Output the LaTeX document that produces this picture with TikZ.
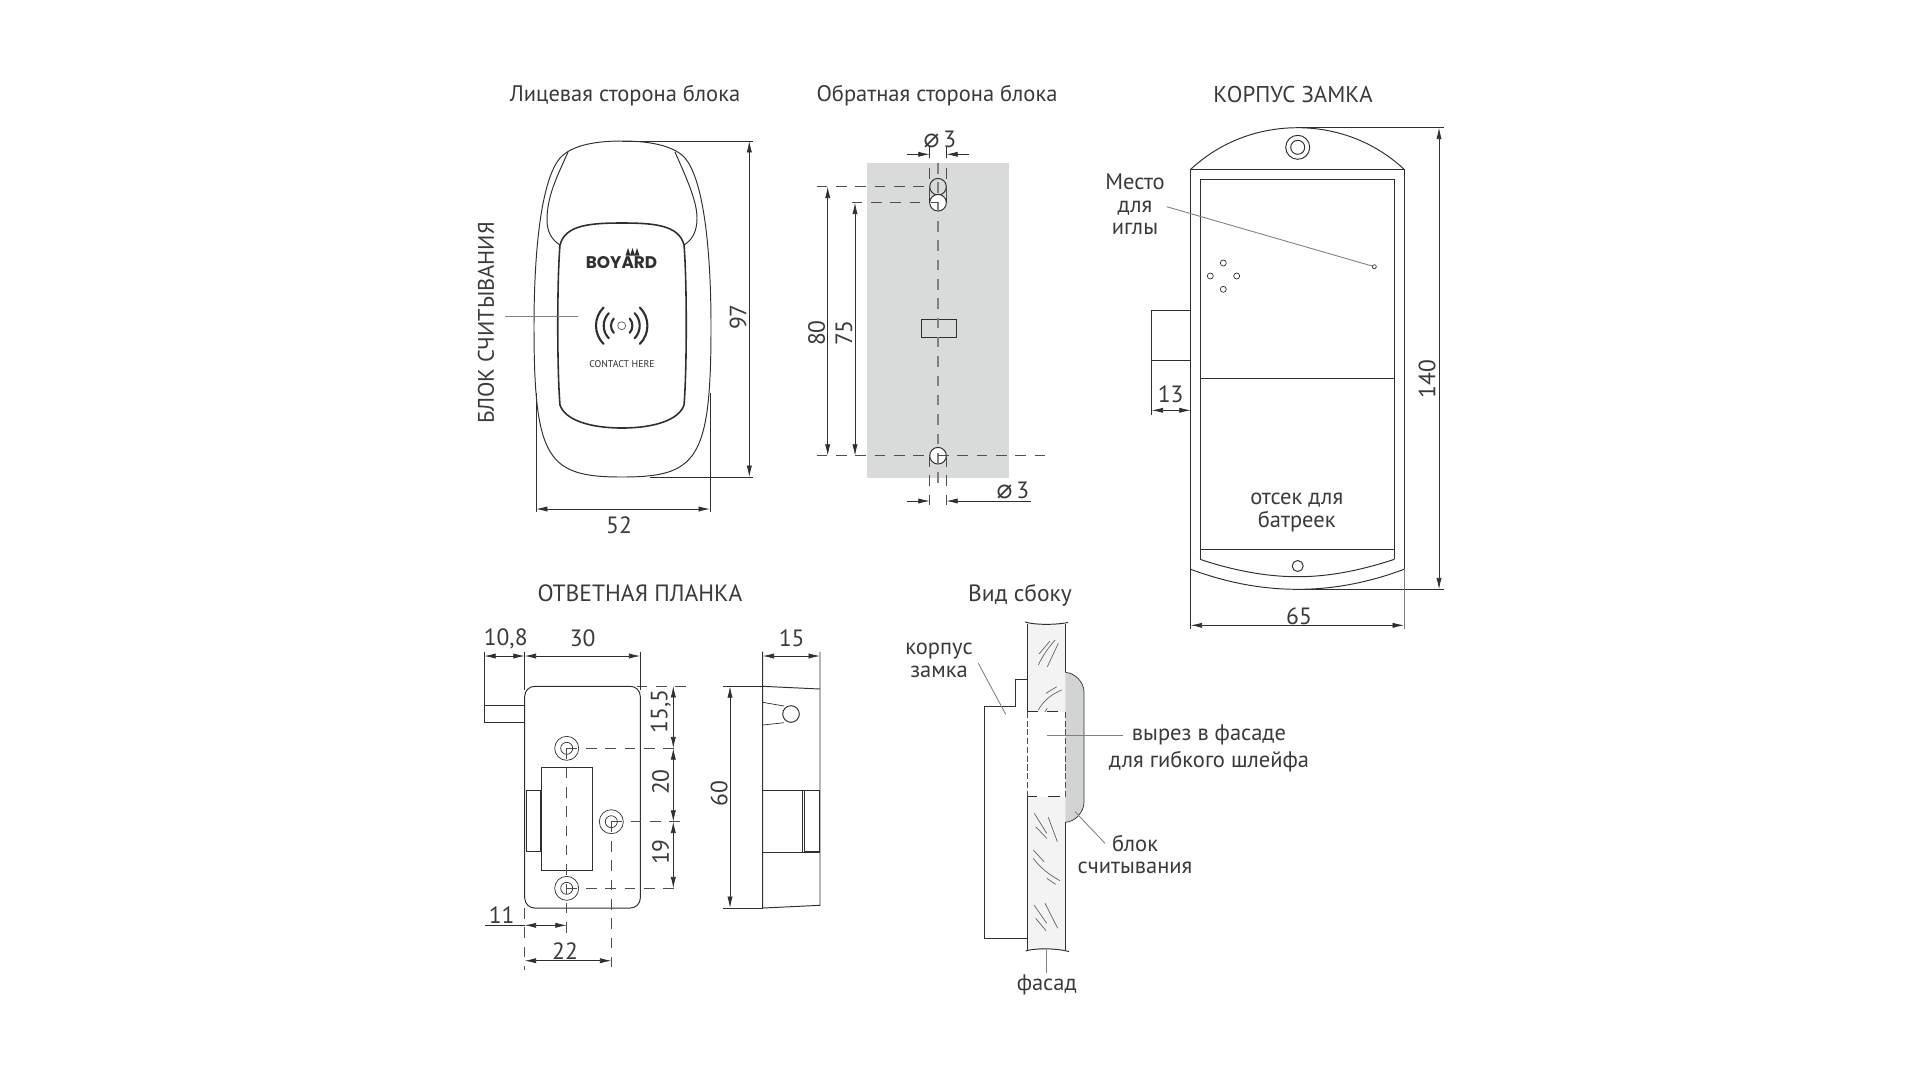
\documentclass[tikz,border=0pt]{standalone}
\usepackage{fontspec}
\usetikzlibrary{arrows.meta}
\setmainfont{PT Sans}
\newfontfamily\dejavu{DejaVu Sans}
\newfontfamily\logofont{Poppins}
\newcommand{\diam}{{\dejavu\fontsize{15}{15}\selectfont ⌀}}
\definecolor{inkline}{HTML}{2F2F2F}
\definecolor{inktext}{HTML}{3A3A3A}
\definecolor{leader}{HTML}{808080}
\definecolor{backplate}{HTML}{D9DADA}
\definecolor{facadefill}{HTML}{F3F3F3}
\definecolor{readerfill}{HTML}{D2D3D3}
\begin{document}
\begin{tikzpicture}[x=0.02cm,y=-0.02cm,
    outline/.style={draw=inkline, line width=0.55pt},
    thickoutline/.style={draw=inkline, line width=0.9pt},
    extline/.style={draw=inkline, line width=0.4pt},
    dashline/.style={draw=inkline!85, line width=0.45pt, dash pattern=on 6pt off 5pt},
    centerline/.style={draw=leader, line width=0.7pt, dash pattern=on 6pt off 5pt},
    leaderline/.style={draw=leader, line width=0.5pt},
    dimline/.style={draw=inkline, line width=0.45pt, {Latex[length=6.5pt,width=3pt]}-{Latex[length=6.5pt,width=3pt]}},
    dimhead/.style={draw=inkline, line width=0.45pt, -{Latex[length=6.5pt,width=3pt]}},
    hatchline/.style={draw=inkline!75, line width=0.4pt},
    labeltext/.style={text=inktext, inner sep=0pt, align=center},
    caption/.style={labeltext, font=\fontsize{12.8}{12.8}\selectfont, yshift=-0.8pt},
    bigcaption/.style={labeltext, font=\fontsize{13.4}{15}\selectfont, yshift=-0.8pt},
    dimlabel/.style={labeltext, font=\fontsize{13.4}{15}\selectfont, rotate=90}]
   \useasboundingbox (0,0) rectangle (1922,1080);

   \node[caption] (titleface) at (625,94) {Лицевая сторона блока};
   \node[caption] (titleback) at (937,94) {Обратная сторона блока};
   \node[bigcaption, font=\fontsize{13}{15}\selectfont] (titlecase) at (1293,93) {КОРПУС ЗАМКА};
   \node[bigcaption] (titlestrike) at (640,592) {ОТВЕТНАЯ ПЛАНКА};
   \node[bigcaption] (titleside) at (1020,594) {Вид сбоку};

   \draw[outline] (622,141) .. controls (590,141) and (570,147) .. (560,158)
      .. controls (543,178) and (534,240) .. (534,327)
      .. controls (534,460) and (548,477) .. (622,477)
      .. controls (697,477) and (711,460) .. (711,327)
      .. controls (711,240) and (702,178) .. (685,158)
      .. controls (675,147) and (654,141) .. (622,141);
   \draw[outline] (568,152) .. controls (558,175) and (547,195) .. (547,220)
      .. controls (547,232) and (552,240) .. (560,245);
   \draw[outline] (675,152) .. controls (685,175) and (697,200) .. (697,218)
      .. controls (697,232) and (692,240) .. (684,245);
   \draw[thickoutline] (622,223) .. controls (590,223) and (565,225) .. (560,245)
      .. controls (557,280) and (557,370) .. (560,405)
      .. controls (565,420) and (590,428) .. (622,428)
      .. controls (654,428) and (679,420) .. (684,405)
      .. controls (687,370) and (687,280) .. (684,245)
      .. controls (679,225) and (654,223) .. (622,223);
   \node[text=inkline, font=\logofont\bfseries\fontsize{9.6}{9.6}\selectfont, inner sep=0pt] (logo) at (621.5,262.5) {BOYARD};
   \foreach \cx in {628,632.5,637}
      \fill[inkline] (\cx-2.5,255.5) -- (\cx,248) -- (\cx+2.5,255.5) -- cycle;
   \draw[draw=inkline!80, line width=0.4pt] (621.7,325.7) circle (4);
   \foreach \rad/\ang in {10.7/42,18/44,25.7/45}{
      \draw[draw=inkline, line width=1.2pt, line cap=round] (621.7,325.7) ++(180-\ang:\rad) arc[start angle=180-\ang, end angle=180+\ang, radius=\rad];
      \draw[draw=inkline, line width=1.2pt, line cap=round] (621.7,325.7) ++(-\ang:\rad) arc[start angle=-\ang, end angle=\ang, radius=\rad];
   }
   \node[text=inkline, font=\fontsize{5.6}{6}\selectfont, inner sep=0pt] (contact) at (622,364) {CONTACT HERE};
   \node[dimlabel, font=\fontsize{12.8}{15}\selectfont] (readerlabel) at (486,323) {БЛОК СЧИТЫВАНИЯ};
   \coordinate (readerA) at (505,316.3);
   \coordinate (readerB) at (578,316.3);
   \draw[leaderline] (readerA) to (readerB);
   \coordinate (h97a) at (749.3,141);
   \coordinate (h97b) at (749.3,477);
   \coordinate (w52a) at (536,509);
   \coordinate (w52b) at (710,509);
   \draw[extline] (622,141) to (753,141);
   \draw[extline] (650,477) to (753,477);
   \draw[extline] (536,393) to (536,512);
   \draw[extline] (710,393) to (710,512);
   \draw[dimline] (h97a) to (h97b);
   \draw[dimline] (w52a) to (w52b);
   \node[dimlabel] (l97) at (738,317) {97};
   \node[bigcaption] (l52) at (619,524) {52};

   \fill[backplate] (867,163) rectangle (1009,478);
   \draw[outline, line width=0.4pt] (929.7,186.7) to (929.7,202.7);
   \draw[outline, line width=0.4pt] (946.3,186.7) to (946.3,202.7);
   \draw[outline] (938,186.7) circle (8.3);
   \draw[outline, fill=white] (938,202.7) circle (8.3);
   \draw[outline, fill=white] (938,455.7) circle (8.3);
   \draw[outline, line width=0.5pt] (921,319.3) rectangle (956.7,337.7);
   \draw[centerline] (938,163) to (938,487);
   \draw[extline] (929.7,147) to (929.7,158);
   \draw[extline] (946.3,147) to (946.3,158);
   \draw[dashline] (929.7,168) to (929.7,206);
   \draw[dashline] (946.3,168) to (946.3,206);
   \draw[dashline] (929.7,456) to (929.7,506);
   \draw[dashline] (946.3,456) to (946.3,506);
   \draw[dashline] (816.7,186.7) to (925,186.7);
   \draw[dashline] (851.7,202.7) to (920,202.7);
   \draw[dashline] (931,202.7) to (938,202.7);
   \draw[dashline] (816.7,455.7) to (926,455.7);
   \draw[dashline] (938,455.7) to (1048,455.7);
   \coordinate (h80a) at (827.7,186.7);
   \coordinate (h80b) at (827.7,455.7);
   \coordinate (h75a) at (855,202.7);
   \coordinate (h75b) at (855,455.7);
   \draw[dimline] (h80a) to (h80b);
   \draw[dimline] (h75a) to (h75b);
   \node[dimlabel] (l80) at (816.7,333) {80};
   \node[dimlabel] (l75) at (844,333) {75};
   \coordinate (holeAa) at (906.7,154.3);
   \coordinate (holeAb) at (929.7,154.3);
   \coordinate (holeAc) at (969,154.3);
   \coordinate (holeAd) at (946.3,154.3);
   \draw[dimhead] (holeAa) to (holeAb);
   \draw[dimhead] (holeAc) to (holeAd);
   \node[bigcaption] (ldiamA) at (940,138) {\diam\,3};
   \coordinate (holeBa) at (906.7,501);
   \coordinate (holeBb) at (929.7,501);
   \coordinate (holeBc) at (1030.7,501);
   \coordinate (holeBd) at (946.3,501);
   \draw[dimhead] (holeBa) to (holeBb);
   \draw[dimhead] (holeBc) to (holeBd);
   \node[bigcaption] (ldiamB) at (1013,489) {\diam\,3};

   \draw[outline] (1190.7,169.3) .. controls (1220,142) and (1258,127.7) .. (1297.7,127.7)
      .. controls (1337,127.7) and (1375,142) .. (1404,169.3);
   \draw[outline] (1190.7,569.3) -- (1190.7,169.3) -- (1404,169.3) -- (1404,569.3);
   \draw[outline] (1190.7,569.3) .. controls (1225,582) and (1260,589.3) .. (1297.7,589.3)
      .. controls (1335,589.3) and (1370,582) .. (1404,569.3);
   \draw[outline] (1200,559.3) -- (1200,179.3) -- (1394.3,179.3) -- (1394.3,559.3);
   \draw[outline] (1200,559.3) .. controls (1232,570) and (1265,576.7) .. (1297.7,576.7)
      .. controls (1330,576.7) and (1362,570) .. (1394.3,559.3);
   \draw[outline] (1200,378) to (1394.3,378);
   \draw[outline] (1200,549) to (1394.3,549);
   \draw[outline] (1297.7,147.3) circle (12);
   \draw[outline] (1297.7,147.3) circle (7);
   \foreach \hx/\hy in {1223.3/263,1210.3/276,1236.7/276,1223.3/289.3}
      \draw[outline, line width=0.4pt] (\hx,\hy) circle (3);
   \draw[outline, line width=0.4pt] (1374.3,266.7) circle (2);
   \draw[outline] (1297.7,566) circle (5.5);
   \draw[outline] (1190.7,310) -- (1151.7,310) -- (1151.7,360) -- (1190.7,360);
   \node[caption] (needle) at (1135,203) {Место\\[0.1pt]для\\[0.1pt]иглы};
   \coordinate (needleS) at (1166.7,206.7);
   \coordinate (needleE) at (1372.4,266.1);
   \draw[leaderline] (needleS) to (needleE);
   \node[caption] (batt) at (1296.7,511) {отсек для\\батреек};
   \draw[extline] (1298,127.7) to (1444,127.7);
   \draw[extline] (1298,589.3) to (1444,589.3);
   \draw[extline] (1151.7,360) to (1151.7,415);
   \draw[extline] (1190.7,569) to (1190.7,629);
   \draw[leaderline] (1404,569) to (1404,629);
   \coordinate (h140a) at (1439,127.7);
   \coordinate (h140b) at (1439,589.3);
   \coordinate (w13a) at (1151.7,410.3);
   \coordinate (w13b) at (1190.7,410.3);
   \coordinate (w65a) at (1190.7,625.3);
   \coordinate (w65b) at (1404,625.3);
   \draw[dimline] (h140a) to (h140b);
   \draw[dimline] (w13a) to (w13b);
   \draw[dimline] (w65a) to (w65b);
   \node[dimlabel] (l140) at (1427,379) {140};
   \node[bigcaption] (l13) at (1170.7,393) {13};
   \node[bigcaption] (l65) at (1299,615) {65};

   \draw[outline] (484.3,705.3) rectangle (524.7,722);
   \draw[outline, fill=white, rounded corners=10*0.02cm] (524.7,686.3) rectangle (640.3,908);
   \draw[outline] (541.3,767) rectangle (592,870);
   \draw[outline] (526,790.3) rectangle (540.3,851);
   \foreach \sx/\sy in {566.7/748.3,611.3/821.7,566.7/888.3}{
      \draw[outline, line width=0.4pt] (\sx,\sy) circle (12);
      \draw[outline, line width=0.4pt] (\sx,\sy) circle (6);
   }
   \draw[dashline] (566.7,748.3) to (566.7,936.7);
   \draw[dashline] (611.3,821.7) to (611.3,966.7);
   \draw[dashline] (524.7,908) to (524.7,970);
   \draw[dashline] (636.7,686) to (686.7,686);
   \draw[dashline] (566.7,748.3) to (680,748.3);
   \draw[dashline] (611.3,821.7) to (680,821.7);
   \draw[dashline] (566.7,888.3) to (680,888.3);
   \draw[extline] (484.3,651.7) to (484.3,705.3);
   \draw[extline] (524.7,651.7) to (524.7,690);
   \draw[extline] (640.3,651.7) to (640.3,690);
   \draw[extline] (485,925.3) to (524.7,925.3);
   \coordinate (w108a) at (484.3,656);
   \coordinate (w108b) at (524.7,656);
   \coordinate (w30a) at (524.7,656);
   \coordinate (w30b) at (640.3,656);
   \coordinate (h155a) at (673.3,686);
   \coordinate (h155b) at (673.3,748.3);
   \coordinate (h20b) at (673.3,821.7);
   \coordinate (h19b) at (673.3,888.3);
   \coordinate (w11a) at (524.7,925.3);
   \coordinate (w11b) at (566.7,925.3);
   \coordinate (w22a) at (524.7,960.7);
   \coordinate (w22b) at (611.3,960.7);
   \draw[dimline] (w108a) to (w108b);
   \draw[dimline] (w30a) to (w30b);
   \draw[dimline] (h155a) to (h155b);
   \draw[dimline] (h155b) to (h20b);
   \draw[dimline] (h20b) to (h19b);
   \draw[dimline] (w11a) to (w11b);
   \draw[dimline] (w22a) to (w22b);
   \node[bigcaption] (l108) at (505.7,637) {10,8};
   \node[bigcaption] (l30) at (582.7,637) {30};
   \node[dimlabel] (l155) at (660.7,711.7) {15,5};
   \node[dimlabel] (l20) at (660.7,782) {20};
   \node[dimlabel] (l19) at (660.7,852) {19};
   \node[bigcaption] (l11) at (501.7,914) {11};
   \node[bigcaption] (l22) at (565,949.3) {22};

   \draw[outline] (762.7,651.7) -- (762.7,908) -- (820,905.3) -- (820,651.7);
   \draw[outline] (762.7,686.3) to (820,689);
   \draw[outline, line width=0.4pt] (762.7,702.3) to (784,706);
   \draw[outline, line width=0.4pt] (762.7,725) to (784,722.7);
   \draw[outline] (791,714) circle (8.3);
   \draw[outline, line width=0.4pt] (762.7,790) to (820,790);
   \draw[outline, line width=0.4pt] (762.7,852.3) to (820,852.3);
   \draw[outline, line width=0.4pt] (802.3,790) to (802.3,852.3);
   \draw[outline] (804.3,790.7) rectangle (819,851);
   \draw[extline] (723.3,686.3) to (762.7,686.3);
   \draw[extline] (723.3,908) to (762.7,908);
   \coordinate (w15a) at (762.7,656);
   \coordinate (w15b) at (820,656);
   \coordinate (h60a) at (730,686.3);
   \coordinate (h60b) at (730,908);
   \draw[dimline] (w15a) to (w15b);
   \draw[dimline] (h60a) to (h60b);
   \node[bigcaption] (l15) at (791.7,637) {15};
   \node[dimlabel] (l60) at (719,793.3) {60};

   \fill[facadefill] (1027.7,624) rectangle (1065.3,950);
   \fill[white] (1027.7,711.7) rectangle (1065.3,796.7);
   \draw[outline, fill=readerfill, line width=0.4pt] (1065.3,672.3) .. controls (1075,673) and (1084,682) .. (1084,692)
      -- (1084,802) .. controls (1084,812) and (1075,822) .. (1065.3,822.3);
   \draw[outline] (1025,622) .. controls (1035,625) and (1055,625) .. (1068,622.5);
   \draw[outline] (1025.5,951) .. controls (1035,948) and (1055,948) .. (1069,951.5);
   \draw[outline] (1027.7,623.5) to (1027.7,711.7);
   \draw[outline] (1027.7,796.7) to (1027.7,950);
   \draw[outline] (1065.3,623.5) to (1065.3,672.3);
   \draw[outline] (1065.3,822.3) to (1065.3,950);
   \draw[dashline, dash pattern=on 3.5pt off 1.5pt] (1027.7,711.7) to (1027.7,796.7);
   \draw[dashline, dash pattern=on 3.5pt off 1.5pt] (1065.3,711.7) to (1065.3,796.7);
   \draw[outline, line width=0.45pt] (1027.7,711.7) to (1038,711.7);
   \draw[outline, line width=0.45pt] (1047,711.7) to (1058,711.7);
   \draw[outline, line width=0.45pt] (1027.7,796.7) to (1037,796.7);
   \draw[outline, line width=0.45pt] (1048,796.7) to (1060,796.7);
   \draw[outline] (1027.7,679.3) -- (1015,679.3) -- (1015,706.3) -- (984.3,706.3) -- (984.3,938.3) -- (1027.7,938.3);
   \draw[hatchline] (1039,654) -- (1050,641)
      (1038.3,665) .. controls (1043,655) and (1049,647) .. (1055,640)
      (1047.3,666.7) -- (1058.3,643.3)
      (1046,693.3) -- (1056.7,686.7)
      (1038.3,710) .. controls (1044,700) and (1052,694) .. (1061.7,690)
      (1045,711.7) -- (1047.3,708.3)
      (1034.3,813.3) -- (1046.7,833.3)
      (1035.7,826.7) -- (1046.7,838.3)
      (1048.3,817.3) -- (1057.3,841.7)
      (1033.3,850) -- (1044,861.7)
      (1033.3,858.3) .. controls (1040,868) and (1050,875) .. (1060,880.7)
      (1046.7,878.3) -- (1055.7,884.3)
      (1034,905) -- (1046.7,923.3)
      (1035.7,918.3) -- (1046,930.7)
      (1045,903.3) -- (1057.7,928.3);
   \node[caption] (body) at (939,659) {корпус\\замка};
   \node[caption] (cut) at (1209,747) {вырез в фасаде\\[2.3pt]для гибкого шлейфа};
   \node[caption] (block) at (1135,853) {блок\\считывания};
   \node[caption] (facade) at (1046.7,983.3) {фасад};
   \coordinate (bodyS) at (978.3,663.3);
   \coordinate (bodyE) at (1005.7,714.3);
   \coordinate (cutS) at (1123.3,735.7);
   \coordinate (cutE) at (1046.7,735.7);
   \coordinate (blockS) at (1105,843.3);
   \coordinate (blockE) at (1075,811.7);
   \coordinate (facadeS) at (1046.7,973);
   \coordinate (facadeE) at (1046.7,950);
   \draw[leaderline] (bodyS) to (bodyE);
   \draw[leaderline] (cutS) to (cutE);
   \draw[leaderline] (blockS) to (blockE);
   \draw[leaderline] (facadeS) to (facadeE);
\end{tikzpicture}
\end{document}
